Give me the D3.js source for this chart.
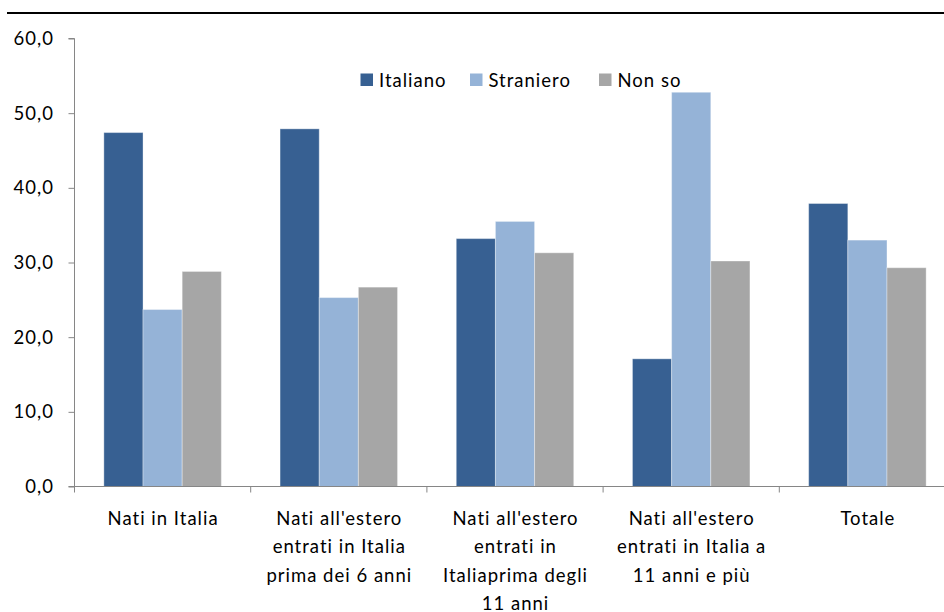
<!DOCTYPE html>
<html>
<head>
<meta charset="utf-8">
<script src="https://cdn.jsdelivr.net/npm/d3@7"></script>
<style>
  html, body { margin: 0; padding: 0; background: #fff; }
  svg { display: block; }
  text { font-family: Lato, "Open Sans", sans-serif; fill: #000; letter-spacing: 1px; }
</style>
</head>
<body>
<svg id="chart" width="944" height="612"></svg>
<script>
const categories = [
  "Nati in Italia",
  "Nati all'estero entrati in Italia prima dei 6 anni",
  "Nati all'estero entrati in Italiaprima degli 11 anni",
  "Nati all'estero entrati in Italia a 11 anni e più",
  "Totale"
];
const categoryLines = [
  ["Nati in Italia"],
  ["Nati all'estero", "entrati in Italia", "prima dei 6 anni"],
  ["Nati all'estero", "entrati in", "Italiaprima degli", "11 anni"],
  ["Nati all'estero", "entrati in Italia a", "11 anni e più"],
  ["Totale"]
];
const seriesNames = ["Italiano", "Straniero", "Non so"];
const italiano  = [47.4, 47.9, 33.2, 17.1, 37.9];
const straniero = [23.7, 25.3, 35.5, 52.8, 33.0];
const nonSo     = [28.8, 26.7, 31.3, 30.2, 29.3];
const yTicks = [0, 10, 20, 30, 40, 50, 60];
const colors = ["#376092", "#95B3D7", "#A6A6A6"];

const seriesValues = [italiano, straniero, nonSo];
const svg = d3.select("#chart");

const x0 = 74.5, yBase = 486.5, yTop = 38.5, step = 176.2;
const x = d3.scaleBand().domain(categories).range([x0, x0 + step * categories.length]).paddingInner(0).paddingOuter(0);
const xs = d3.scaleBand().domain(seriesNames).range([0, x.bandwidth()]).paddingInner(0).paddingOuter(0.75);
const y = d3.scaleLinear().domain([0, 60]).range([yBase, yTop]);

// top rule
svg.append("line").attr("x1", 7).attr("x2", 944).attr("y1", 13).attr("y2", 13)
  .attr("stroke", "#000").attr("stroke-width", 2);

// bars
categories.forEach((c, i) => {
  seriesNames.forEach((s, j) => {
    const v = seriesValues[j][i];
    svg.append("rect")
      .attr("x", x(c) + xs(s))
      .attr("y", y(v))
      .attr("width", xs.bandwidth())
      .attr("height", y(0) - y(v))
      .attr("fill", colors[j])
      .attr("stroke", "rgba(255,255,255,0.35)")
      .attr("stroke-width", 1);
  });
});

// y axis
const yAxis = svg.append("g").attr("transform", `translate(${x0},0)`)
  .call(d3.axisLeft(y).tickValues(yTicks).tickSize(6).tickPadding(14.5)
    .tickFormat(d => d.toFixed(1).replace(".", ",")));
yAxis.select(".domain").attr("stroke", "#868686").attr("d", `M-6,${yTop}H0V${yBase}`);
yAxis.selectAll(".tick line").attr("stroke", "#868686");
yAxis.selectAll(".tick text").attr("font-size", 18.5).attr("font-family", "Lato, sans-serif").attr("fill", "#000");

// x axis line
svg.append("line").attr("x1", x0 - 6).attr("x2", 944).attr("y1", yBase).attr("y2", yBase)
  .attr("stroke", "#868686").attr("stroke-width", 1);
categories.forEach(c => {
  svg.append("line").attr("x1", x(c)).attr("x2", x(c)).attr("y1", yBase).attr("y2", yBase + 6)
    .attr("stroke", "#868686").attr("stroke-width", 1);
});

// x labels
categories.forEach((c, i) => {
  const t = svg.append("text")
    .attr("text-anchor", "middle")
    .attr("font-size", 18.5);
  categoryLines[i].forEach((ln, k) => {
    t.append("tspan").attr("x", x(c) + x.bandwidth() / 2 + 0.5).attr("y", 525 + k * 28.3).text(ln);
  });
});

// legend
const legendX = [360.5, 470, 599];
seriesNames.forEach((s, j) => {
  svg.append("rect").attr("x", legendX[j]).attr("y", 73.5).attr("width", 12.5).attr("height", 12.5)
    .attr("fill", colors[j]);
  svg.append("text").attr("x", legendX[j] + 18.5).attr("y", 86.5)
    .attr("font-size", 18.5).text(s);
});
</script>
</body>
</html>
